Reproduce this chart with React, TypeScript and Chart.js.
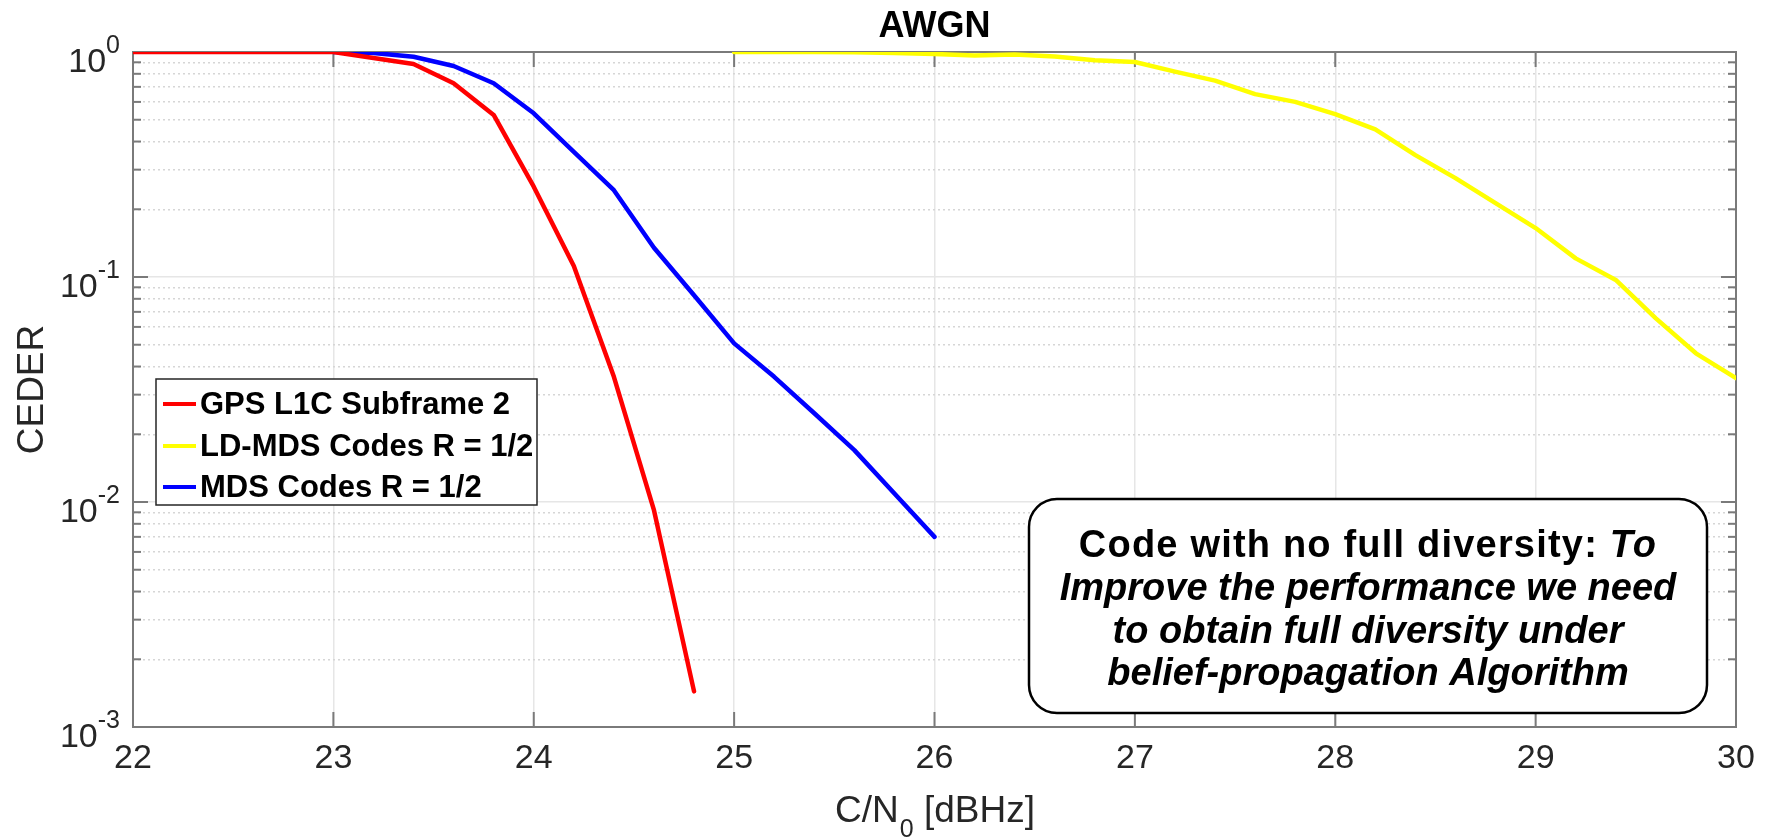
import React, { useEffect, useRef } from 'react';
import { Chart, registerables } from 'chart.js';

Chart.register(...registerables);

// ---------- data ----------
const gpsX = [22, 22.2, 22.4, 22.6, 22.8, 23, 23.2, 23.4, 23.6, 23.8, 24, 24.2, 24.4, 24.6, 24.8];
const gpsY = [1, 1, 1, 1, 1, 1, 0.94, 0.885, 0.726, 0.525, 0.252, 0.112, 0.036, 0.0092, 0.00144];

const ldmdsX = [25, 25.2, 25.4, 25.6, 25.8, 26, 26.2, 26.4, 26.6, 26.8, 27, 27.2, 27.4, 27.6, 27.8, 28, 28.2, 28.4, 28.6, 28.8, 29, 29.2, 29.4, 29.6, 29.8, 30];
const ldmdsY = [1, 1, 1, 0.998, 0.99, 0.98, 0.965, 0.975, 0.955, 0.92, 0.903, 0.818, 0.746, 0.65, 0.6, 0.53, 0.453, 0.348, 0.275, 0.213, 0.165, 0.121, 0.097, 0.0655, 0.0458, 0.0355];

const mdsX = [23, 23.2, 23.4, 23.6, 23.8, 24, 24.2, 24.4, 24.6, 24.8, 25, 25.2, 25.4, 25.6, 25.8, 26];
const mdsY = [1, 0.99, 0.953, 0.867, 0.726, 0.534, 0.36, 0.243, 0.135, 0.083, 0.0507, 0.036, 0.0248, 0.017, 0.0109, 0.007];

const seriesLabels = ['GPS L1C Subframe 2', 'LD-MDS Codes R = 1/2', 'MDS Codes R = 1/2'];
const seriesColors = ['#ff0000', '#ffff00', '#0000ff'];

const xTickValues = [22, 23, 24, 25, 26, 27, 28, 29, 30];
const yDecades = [-3, -2, -1, 0];
const yMinorMultipliers = [2, 3, 4, 5, 6, 7, 8, 9];

const titleText = 'AWGN';
const xLabelMain = 'C/N';
const xLabelSub = '0';
const xLabelTail = ' [dBHz]';
const yLabelText = 'CEDER';
const noteBold = 'Code with no full diversity: ';
const noteItalicFirst = 'To';
const noteLines = ['Improve the performance we need', 'to obtain full diversity under', 'belief-propagation Algorithm'];

const FONT = '"Liberation Sans", Arial, Helvetica, sans-serif';
const TEXT_COLOR = '#262626';

function isDecade(v: number) {
  const l = Math.log10(v);
  return Math.abs(l - Math.round(l)) < 1e-6;
}

const yTickValues: number[] = [];
yDecades.forEach((d) => {
  yTickValues.push(Math.pow(10, d));
  if (d < 0) yMinorMultipliers.forEach((m) => yTickValues.push(m * Math.pow(10, d)));
});
yTickValues.sort((a, b) => a - b);

function toPoints(xs: number[], ys: number[]) {
  return xs.map((x, i) => ({ x, y: ys[i] }));
}

const matlabPlugin = {
  id: 'matlabLook',
  beforeDatasetsDraw(chart: any) {
    const { ctx, chartArea: a, scales } = chart;
    const xs = scales.x;
    const ys = scales.y;
    ctx.save();
    ctx.strokeStyle = '#7a7a7a';
    ctx.lineWidth = 2;
    const seg = (x1: number, y1: number, x2: number, y2: number) => {
      ctx.beginPath();
      ctx.moveTo(x1, y1);
      ctx.lineTo(x2, y2);
      ctx.stroke();
    };
    xs.ticks.forEach((t: any) => {
      const px = xs.getPixelForValue(t.value);
      seg(px, a.bottom, px, a.bottom - 15);
      seg(px, a.top, px, a.top + 15);
    });
    ys.ticks.forEach((t: any) => {
      const py = ys.getPixelForValue(t.value);
      const len = isDecade(t.value) ? 15 : 8;
      seg(a.left, py, a.left + len, py);
      seg(a.right, py, a.right - len, py);
    });
    ctx.strokeRect(a.left, a.top, a.right - a.left, a.bottom - a.top);

    // y tick labels 10^n
    ctx.fillStyle = TEXT_COLOR;
    ctx.textBaseline = 'alphabetic';
    ys.ticks.forEach((t: any) => {
      if (!isDecade(t.value)) return;
      const py = ys.getPixelForValue(t.value);
      const exp = String(Math.round(Math.log10(t.value)));
      const rightX = a.left - 13;
      ctx.font = `25px ${FONT}`;
      const ew = ctx.measureText(exp).width;
      ctx.textAlign = 'left';
      ctx.fillText(exp, rightX - ew, py + 1);
      ctx.font = `34px ${FONT}`;
      ctx.textAlign = 'right';
      ctx.fillText('10', rightX - ew, py + 20);
    });

    // x axis label with subscript
    const cx = (a.left + a.right) / 2;
    ctx.font = `37px ${FONT}`;
    const w1 = ctx.measureText(xLabelMain).width;
    const w3 = ctx.measureText(xLabelTail).width;
    ctx.font = `25px ${FONT}`;
    const w2 = ctx.measureText(xLabelSub).width;
    let x0 = cx - (w1 + w2 + w3) / 2;
    ctx.textAlign = 'left';
    ctx.font = `37px ${FONT}`;
    ctx.fillText(xLabelMain, x0, 822);
    x0 += w1;
    ctx.font = `25px ${FONT}`;
    ctx.fillText(xLabelSub, x0 + 1, 837);
    x0 += w2 + 1;
    ctx.font = `37px ${FONT}`;
    ctx.fillText(xLabelTail, x0, 822);

    // y axis label
    ctx.save();
    ctx.translate(43, (a.top + a.bottom) / 2);
    ctx.rotate(-Math.PI / 2);
    ctx.textAlign = 'center';
    ctx.font = `37px ${FONT}`;
    ctx.fillText(yLabelText, 0, 0);
    ctx.restore();

    // title
    ctx.textAlign = 'center';
    ctx.fillStyle = '#000000';
    ctx.font = `bold 36px ${FONT}`;
    ctx.fillText(titleText, cx, 37);
    ctx.restore();
  },
  afterDraw(chart: any) {
    const { ctx } = chart;
    ctx.save();
    // legend box
    const lx = 156, ly = 379, lw = 381, lh = 126;
    ctx.fillStyle = '#ffffff';
    ctx.fillRect(lx, ly, lw, lh);
    ctx.strokeStyle = '#262626';
    ctx.lineWidth = 1.5;
    ctx.strokeRect(lx, ly, lw, lh);
    const rows = [404, 446, 487];
    chart.data.datasets.forEach((ds: any, i: number) => {
      const y = rows[i];
      ctx.strokeStyle = ds.borderColor;
      ctx.lineWidth = 4;
      ctx.beginPath();
      ctx.moveTo(163, y);
      ctx.lineTo(196, y);
      ctx.stroke();
      ctx.fillStyle = '#000000';
      ctx.font = `bold 31px ${FONT}`;
      ctx.textAlign = 'left';
      ctx.textBaseline = 'middle';
      ctx.fillText(ds.label, 200, y + 1);
    });

    // annotation box
    const bx = 1029, by = 499, bw = 678, bh = 214, r = 28;
    ctx.beginPath();
    ctx.moveTo(bx + r, by);
    ctx.lineTo(bx + bw - r, by);
    ctx.arcTo(bx + bw, by, bx + bw, by + r, r);
    ctx.lineTo(bx + bw, by + bh - r);
    ctx.arcTo(bx + bw, by + bh, bx + bw - r, by + bh, r);
    ctx.lineTo(bx + r, by + bh);
    ctx.arcTo(bx, by + bh, bx, by + bh - r, r);
    ctx.lineTo(bx, by + r);
    ctx.arcTo(bx, by, bx + r, by, r);
    ctx.closePath();
    ctx.fillStyle = '#ffffff';
    ctx.fill();
    ctx.strokeStyle = '#000000';
    ctx.lineWidth = 2.5;
    ctx.stroke();

    const ncx = bx + bw / 2;
    ctx.fillStyle = '#000000';
    ctx.textBaseline = 'alphabetic';
    const fs = 38;
    const c2: any = ctx;
    c2.letterSpacing = '1.2px';
    ctx.font = `bold ${fs}px ${FONT}`;
    const wb = ctx.measureText(noteBold).width;
    ctx.font = `italic bold ${fs}px ${FONT}`;
    const wi = ctx.measureText(noteItalicFirst).width;
    const sx = ncx - (wb + wi) / 2;
    ctx.textAlign = 'left';
    ctx.font = `bold ${fs}px ${FONT}`;
    ctx.fillText(noteBold, sx, 557);
    ctx.font = `italic bold ${fs}px ${FONT}`;
    ctx.fillText(noteItalicFirst, sx + wb, 557);
    c2.letterSpacing = '0px';
    ctx.textAlign = 'center';
    noteLines.forEach((line, i) => {
      ctx.fillText(line, ncx, 600 + i * 42.5);
    });
    ctx.restore();
  },
};

export default function App() {
  const ref = useRef<HTMLCanvasElement>(null);
  useEffect(() => {
    document.body.style.margin = '0';
    const canvas = ref.current;
    if (!canvas) return;
    const chart = new Chart(canvas, {
      type: 'line',
      data: {
        datasets: [
          { label: seriesLabels[0], data: toPoints(gpsX, gpsY), borderColor: seriesColors[0], backgroundColor: seriesColors[0] },
          { label: seriesLabels[1], data: toPoints(ldmdsX, ldmdsY), borderColor: seriesColors[1], backgroundColor: seriesColors[1] },
          { label: seriesLabels[2], data: toPoints(mdsX, mdsY), borderColor: seriesColors[2], backgroundColor: seriesColors[2] },
        ],
      },
      options: {
        responsive: false,
        animation: false,
        devicePixelRatio: 1,
        layout: { padding: { top: 52, right: 35, left: 0, bottom: 0 } },
        elements: {
          point: { radius: 0, hoverRadius: 0 },
          line: { borderWidth: 4.5, tension: 0, borderJoinStyle: 'round', borderCapStyle: 'round' },
        },
        plugins: {
          legend: { display: false },
          title: { display: false },
          tooltip: { enabled: false },
        },
        scales: {
          x: {
            type: 'linear',
            min: 22,
            max: 30,
            afterBuildTicks: (scale: any) => {
              scale.ticks = xTickValues.map((v) => ({ value: v }));
            },
            afterFit: (scale: any) => {
              scale.height = 113;
            },
            ticks: {
              autoSkip: false,
              maxRotation: 0,
              padding: 11,
              color: TEXT_COLOR,
              font: { family: FONT, size: 34 },
            },
            grid: { color: '#e6e6e6', lineWidth: 1.5, drawTicks: false },
            border: { display: false },
          },
          y: {
            type: 'logarithmic',
            min: 0.001,
            max: 1,
            afterBuildTicks: (scale: any) => {
              scale.ticks = yTickValues.map((v) => ({ value: v, major: isDecade(v) }));
            },
            afterFit: (scale: any) => {
              scale.width = 133;
            },
            ticks: { display: false, autoSkip: false },
            grid: {
              drawTicks: false,
              lineWidth: 1.5,
              color: (c: any) => (c.tick && isDecade(c.tick.value) ? '#e6e6e6' : '#d6d6d6'),
            },
            border: {
              display: false,
              dash: (c: any) => (c.tick && isDecade(c.tick.value) ? [] : [2, 3]),
            },
          },
        },
      },
      plugins: [matlabPlugin],
    } as any);
    return () => chart.destroy();
  }, []);
  return (
    <div style={{ width: 1771, height: 840 }}>
      <canvas ref={ref} width={1771} height={840} style={{ display: 'block' }} />
    </div>
  );
}
